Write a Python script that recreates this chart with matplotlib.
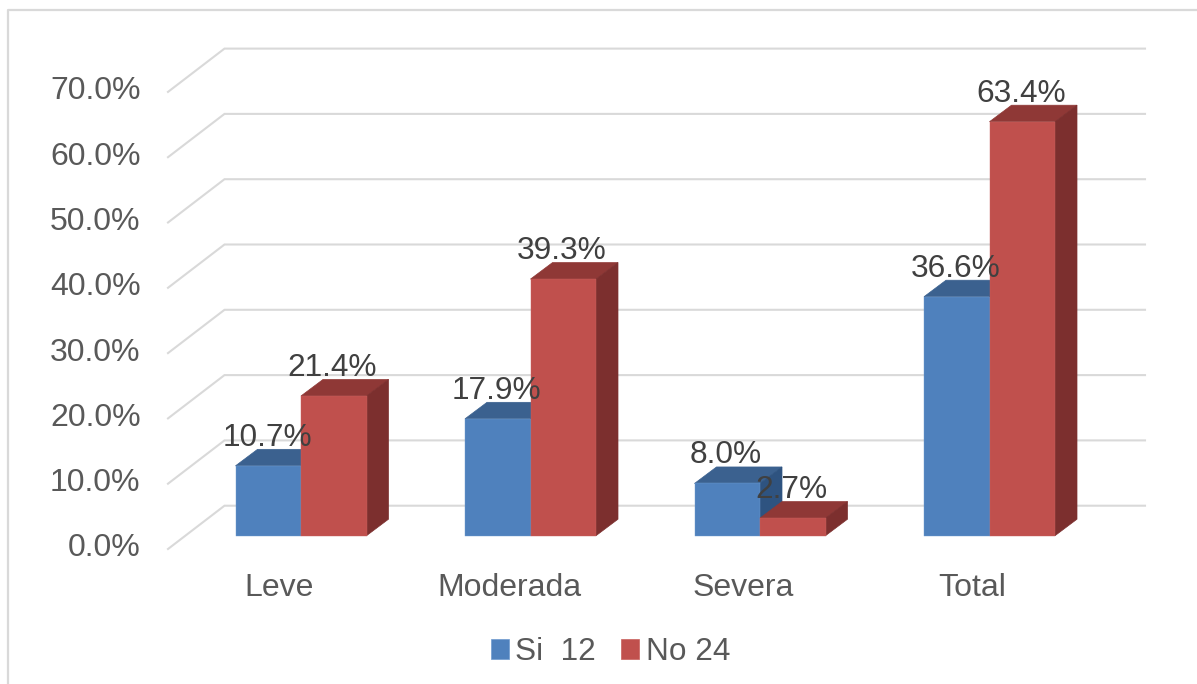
import matplotlib
matplotlib.use('Agg')
import matplotlib.pyplot as plt
from matplotlib.lines import Line2D
from matplotlib.patches import Polygon

categories = ['Leve', 'Moderada', 'Severa', 'Total']
si_values = [10.7, 17.9, 8.0, 36.6]
no_values = [21.4, 39.3, 2.7, 63.4]
series_names = ['Si  12', 'No 24']
y_ticks = [0, 10, 20, 30, 40, 50, 60, 70]

plt.rcParams['font.family'] = ['Liberation Sans', 'DejaVu Sans']

W, H = 1197, 684
PX_X = 229.5   # pixels per category
PX_Y = 6.53    # pixels per percent
X0, Y0 = 301, 535.7   # pixel of category 0, value 0

BAR_W = 65.5 / PX_X
DX, DY = 22 / PX_X, 16.5 / PX_Y      # depth of the bars
GRID = '#D9D9D9'


def draw_bar(ax, x, v, front, top, side, edge):
    # top and side faces are sheared, the front one is a plain bar
    ax.add_patch(Polygon([(x, v), (x + BAR_W, v), (x + BAR_W + DX, v + DY), (x + DX, v + DY)],
                         facecolor=top, edgecolor=top, lw=0.5))
    ax.add_patch(Polygon([(x + BAR_W, 0), (x + BAR_W + DX, DY), (x + BAR_W + DX, v + DY), (x + BAR_W, v)],
                         facecolor=side, edgecolor=side, lw=0.5))
    ax.bar(x, v, BAR_W, align='edge', color=front, edgecolor=edge, linewidth=0.3)


def main():
    fig = plt.figure(figsize=(W / 100, H / 100), dpi=100)
    ax = fig.add_axes([0, 0, 1, 1])
    ax.set_xlim(-X0 / PX_X, (W - X0) / PX_X)
    ax.set_ylim((Y0 - H) / PX_Y, Y0 / PX_Y)
    ax.axis('off')

    # chart frame, only left and top show in the picture
    fig.add_artist(Line2D([8 / W, 8 / W, 1], [0, 1 - 10 / H, 1 - 10 / H], color=GRID, lw=1.6))

    # gridlines with the floor going towards the viewer
    back_x, front_x, end_x = -76.5 / PX_X, -133 / PX_X, 844 / PX_X
    back_y, front_y = 30 / PX_Y, -13.3 / PX_Y
    for t in y_ticks:
        ax.plot([front_x, back_x, end_x], [t + front_y, t + back_y, t + back_y],
                color=GRID, lw=1.5, solid_joinstyle='miter', zorder=1)
        ax.text(-160.5 / PX_X, t + front_y + 0.5 / PX_Y, f'{t:.1f}%', ha='right', va='center',
                fontsize=23, color='#595959')

    label_shift = [-22, -21, -17, -17]   # category labels are not centred under the groups
    for i, cat in enumerate(categories):
        draw_bar(ax, i - BAR_W, si_values[i], '#4F81BD', '#3B618F', '#2E5380', '#6F9BD0')
        draw_bar(ax, i, no_values[i], '#C0504D', '#8F3836', '#7C2F2E', '#C9605D')
        ax.text(i + label_shift[i] / PX_X, -52 / PX_Y, cat, ha='center', va='center',
                fontsize=23, color='#595959')

    # labels go last, they sit over the bars
    for i in range(len(categories)):
        ax.text(i - BAR_W / 2 - 0.005, si_values[i] + 28 / PX_Y, f'{si_values[i]:.1f}%',
                ha='center', va='center', fontsize=22.8, color='#404040', zorder=5)
        ax.text(i + BAR_W / 2 - 0.006, no_values[i] + 28 / PX_Y, f'{no_values[i]:.1f}%',
                ha='center', va='center', fontsize=22.8, color='#404040', zorder=5)

    handles = [plt.Rectangle((0, 0), 1, 1, facecolor='#4F81BD', edgecolor='#6F9BD0', lw=0.5),
               plt.Rectangle((0, 0), 1, 1, facecolor='#C0504D', edgecolor='#C9605D', lw=0.5)]
    fig.legend(handles, series_names, loc='center', bbox_to_anchor=(610.5 / W, 1 - 652 / H), ncol=2,
               frameon=False, fontsize=22.7, labelcolor='#595959', handlelength=0.57, handleheight=0.57,
               handletextpad=0.2, columnspacing=0.8, borderpad=0, borderaxespad=0)

    fig.savefig('out.png', dpi=100)
    plt.close(fig)


if __name__ == '__main__':
    main()
